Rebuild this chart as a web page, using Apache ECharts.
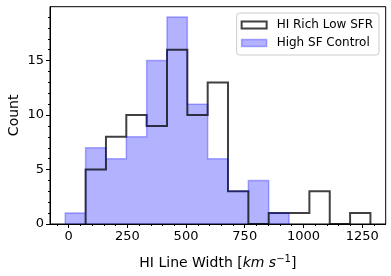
<!DOCTYPE html>
<html><head><meta charset="utf-8">
<script src="https://cdn.jsdelivr.net/npm/echarts@6/dist/echarts.min.js"></script>
<style>html,body{margin:0;padding:0;background:#fff}#c{width:391px;height:276px}</style>
</head><body><div id="c"></div>
<script>
const binEdges = [-14, 72.6, 159.2, 245.8, 332.4, 419, 505.6, 592.2, 678.8, 765.4, 852, 938.6, 1025.2, 1111.8, 1198.4, 1285];
const hiRichLowSFR = [0, 5, 8, 10, 9, 16, 10, 13, 3, 0, 1, 1, 3, 0, 1];
const highSFControl = [1, 7, 6, 8, 15, 19, 11, 6, 3, 4, 1, 0, 0, 0, 0];
const seriesNames = ['HI Rich Low SFR', 'High SF Control'];
const xTicks = [0, 250, 500, 750, 1000, 1250];
const xMinorTicks = [-50, 50, 100, 150, 200, 300, 350, 400, 450, 550, 600, 650, 700, 800, 850, 900, 950, 1050, 1100, 1150, 1200, 1300];
const yTicks = [0, 5, 10, 15];
const yMinorTicks = [1, 2, 3, 4, 6, 7, 8, 9, 11, 12, 13, 14, 16, 17, 18, 19];

const FONT = 'DejaVu Sans';
const X_MIN = -79, X_MAX = 1350, Y_MIN = 0, Y_MAX = 19.95;

function stepData(counts) {
  let first = counts.findIndex(v => v !== 0);
  let last = counts.length - 1;
  while (last > 0 && counts[last] === 0) last--;
  const pts = [[binEdges[first], 0]];
  for (let i = first; i <= last; i++) pts.push([binEdges[i], counts[i]]);
  pts.push([binEdges[last + 1], 0]);
  return pts;
}

const blackCol = 'rgba(0,0,0,0.75)';
const blueCol = 'rgba(0,0,255,0.3)';
const plain = v => String(v);

const chart = echarts.init(document.getElementById('c'), null, {renderer: 'canvas'});
chart.setOption({
  animation: false,
  backgroundColor: '#fff',
  grid: {left: 50, right: 5.3, top: 6.7, bottom: 52, containLabel: false, outerBoundsMode: 'none',
         show: true, borderColor: '#000', borderWidth: 1, backgroundColor: 'transparent'},
  legend: {
    orient: 'vertical', right: 12, top: 13,
    itemWidth: 25, itemHeight: 7, itemGap: 4,
    padding: [5, 6, 5, 4],
    backgroundColor: 'rgba(255,255,255,0.8)', borderColor: '#cccccc', borderWidth: 1, borderRadius: 3,
    textStyle: {fontFamily: FONT, fontSize: 12, color: '#000', padding: [0, 0, 0, 5], lineHeight: 14},
    data: [
      {name: seriesNames[0], icon: 'rect', itemStyle: {color: 'rgba(0,0,0,0)', borderColor: blackCol, borderWidth: 2}},
      {name: seriesNames[1], icon: 'rect', itemStyle: {color: blueCol, borderColor: blueCol, borderWidth: 1.5}}
    ]
  },
  xAxis: [{
    type: 'value', min: X_MIN, max: X_MAX,
    axisLine: {show: true, onZero: false, lineStyle: {color: '#000', width: 1}},
    axisTick: {show: true, length: 4, lineStyle: {color: '#000'}, customValues: xTicks},
    axisLabel: {customValues: xTicks, formatter: plain, color: '#000', fontFamily: FONT, fontSize: 13, margin: 6},
    splitLine: {show: false},
    name: '{n|HI Line Width [}{i|km s}{sup|−1}{n|]}',
    nameLocation: 'middle', nameGap: 30, nameMoveOverlap: false,
    nameTextStyle: {
      color: '#000', fontFamily: FONT, fontSize: 14,
      rich: {
        n: {fontFamily: FONT, fontSize: 14, color: '#000', lineHeight: 18},
        i: {fontFamily: FONT, fontSize: 14, fontStyle: 'italic', color: '#000', lineHeight: 18},
        sup: {fontFamily: FONT, fontSize: 10, color: '#000', verticalAlign: 'top', lineHeight: 18, padding: [0, 0, 6, 0]}
      }
    }
  }, {
    type: 'value', min: X_MIN, max: X_MAX, position: 'bottom',
    axisLine: {show: false, onZero: false},
    axisTick: {show: true, length: 2, lineStyle: {color: '#000'}, customValues: xMinorTicks},
    axisLabel: {show: false}, splitLine: {show: false}
  }],
  yAxis: [{
    type: 'value', min: Y_MIN, max: Y_MAX,
    axisLine: {show: true, onZero: false, lineStyle: {color: '#000', width: 1}},
    axisTick: {show: true, length: 4, lineStyle: {color: '#000'}, customValues: yTicks},
    axisLabel: {customValues: yTicks, formatter: plain, color: '#000', fontFamily: FONT, fontSize: 13, margin: 6},
    splitLine: {show: false},
    name: 'Count', nameLocation: 'middle', nameGap: 29, nameMoveOverlap: false,
    nameTextStyle: {color: '#000', fontFamily: FONT, fontSize: 14}
  }, {
    type: 'value', min: Y_MIN, max: Y_MAX, position: 'left',
    axisLine: {show: false, onZero: false},
    axisTick: {show: true, length: 2, lineStyle: {color: '#000'}, customValues: yMinorTicks},
    axisLabel: {show: false}, splitLine: {show: false}
  }],
  series: [{
    name: seriesNames[0], type: 'line', step: 'end', showSymbol: false, symbol: 'none',
    xAxisIndex: 0, yAxisIndex: 0,
    data: stepData(hiRichLowSFR),
    lineStyle: {color: blackCol, width: 2, join: 'miter'},
    itemStyle: {color: 'rgba(0,0,0,0)', borderColor: blackCol, borderWidth: 2},
    emphasis: {disabled: true}
  }, {
    name: seriesNames[1], type: 'line', step: 'end', showSymbol: false, symbol: 'none',
    xAxisIndex: 0, yAxisIndex: 0,
    data: stepData(highSFControl),
    lineStyle: {color: blueCol, width: 1.5, join: 'miter'},
    areaStyle: {color: blueCol, opacity: 1, origin: 0},
    itemStyle: {color: blueCol, borderColor: blueCol, borderWidth: 1.5},
    emphasis: {disabled: true}
  }]
});
</script></body></html>
